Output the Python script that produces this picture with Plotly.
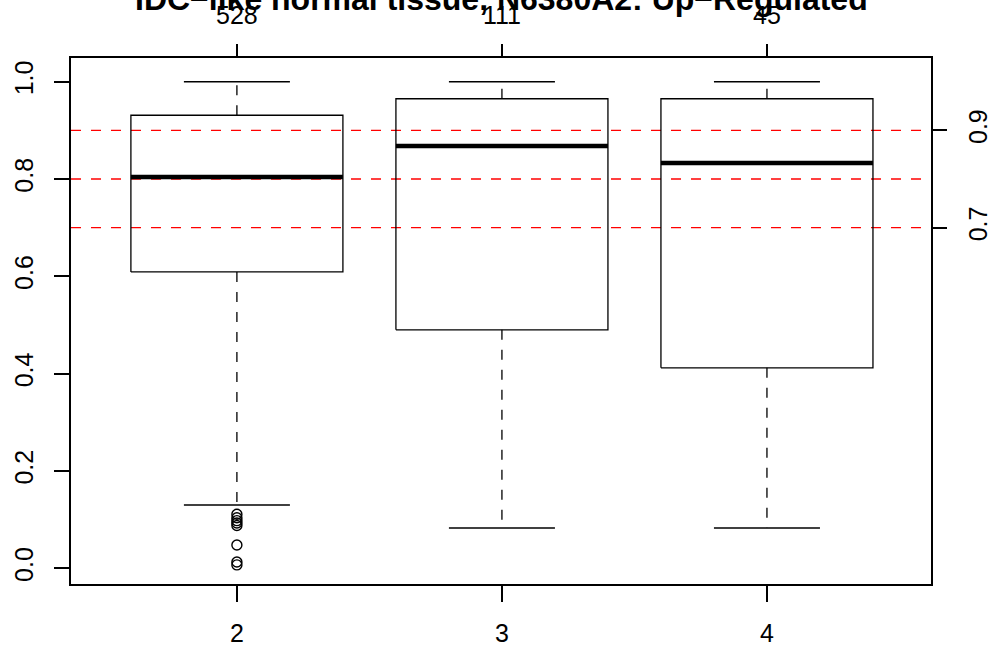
import plotly.graph_objects as go

# ---- data ----
groups = ["2", "3", "4"]
counts = ["528", "111", "45"]
q1 = [0.609, 0.490, 0.412]
med = [0.804, 0.868, 0.833]
q3 = [0.931, 0.965, 0.965]
whisk_lo = [0.130, 0.083, 0.083]
whisk_hi = [1.0, 1.0, 1.0]
outlier_group = [1, 1, 1, 1, 1, 1, 1, 1]
outlier_vals = [0.111, 0.104, 0.098, 0.093, 0.088, 0.048, 0.013, 0.007]
ref_lines = [0.9, 0.8, 0.7]
right_ticks = [0.7, 0.9]
left_ticks = [0.0, 0.2, 0.4, 0.6, 0.8, 1.0]

FONT = "Liberation Sans, Arial, sans-serif"
BW = 0.4   # half box width
CW = 0.2   # half cap width
XR = [0.374, 3.619]
YR = [-0.0323, 1.0487]

fig = go.Figure()

# reference lines
for v in ref_lines:
    fig.add_trace(go.Scatter(x=XR, y=[v, v], mode="lines",
                             line=dict(color="red", width=1.3, dash="10px,10px"),
                             hoverinfo="skip", showlegend=False))

for i in range(len(groups)):
    x = i + 1
    # whiskers (dashed)
    fig.add_trace(go.Scatter(x=[x, x], y=[q3[i], whisk_hi[i]], mode="lines",
                             line=dict(color="black", width=1.3, dash="10px,10px"),
                             hoverinfo="skip", showlegend=False))
    fig.add_trace(go.Scatter(x=[x, x], y=[q1[i], whisk_lo[i]], mode="lines",
                             line=dict(color="black", width=1.3, dash="10px,10px"),
                             hoverinfo="skip", showlegend=False))
    # caps
    for w in (whisk_hi[i], whisk_lo[i]):
        fig.add_trace(go.Scatter(x=[x - CW, x + CW], y=[w, w], mode="lines",
                                 line=dict(color="black", width=1.5),
                                 hoverinfo="skip", showlegend=False))
    # box
    fig.add_trace(go.Scatter(x=[x - BW, x + BW, x + BW, x - BW, x - BW],
                             y=[q1[i], q1[i], q3[i], q3[i], q1[i]], mode="lines",
                             line=dict(color="black", width=1.3),
                             hoverinfo="skip", showlegend=False))
    # median
    fig.add_trace(go.Scatter(x=[x - BW, x + BW], y=[med[i], med[i]], mode="lines",
                             line=dict(color="black", width=4.5),
                             hoverinfo="skip", showlegend=False))

# outliers
fig.add_trace(go.Scatter(x=outlier_group, y=outlier_vals, mode="markers",
                         marker=dict(symbol="circle-open", size=10, color="black",
                                     line=dict(width=1.4)),
                         hoverinfo="skip", showlegend=False))

# dummy trace for secondary axes
fig.add_trace(go.Scatter(x=[None], y=[None], xaxis="x2", yaxis="y2",
                         showlegend=False, hoverinfo="skip"))

tickfont = dict(family=FONT, size=25, color="black")

fig.update_layout(
    width=993, height=647,
    margin=dict(l=71, r=62, t=58, b=63, autoexpand=False),
    plot_bgcolor="white", paper_bgcolor="white",
    showlegend=False,
    xaxis=dict(range=XR, tickvals=[1, 2, 3], ticktext=groups, automargin=False,
               ticks="outside", ticklen=16, tickwidth=1.5, tickcolor="black",
               showline=True, mirror=True, linecolor="black", linewidth=1.5,
               showgrid=False, zeroline=False, tickfont=tickfont,
               ticklabelstandoff=10),
    yaxis=dict(range=YR, tickvals=left_ticks, automargin=False,
               ticktext=[f"{v:.1f}" for v in left_ticks],
               ticks="outside", ticklen=15, tickwidth=1.5, tickcolor="black",
               showline=True, mirror=True, linecolor="black", linewidth=1.5,
               showgrid=False, zeroline=False, tickfont=tickfont, tickangle=-90,
               ticklabelstandoff=11),
    xaxis2=dict(range=XR, overlaying="x", side="top", tickvals=[1, 2, 3],
                automargin=False,
                ticktext=counts, ticks="outside", ticklen=13, tickwidth=1.5,
                tickcolor="black", showline=False, showgrid=False,
                zeroline=False, tickfont=tickfont, ticklabelstandoff=10),
    yaxis2=dict(range=YR, overlaying="y", side="right", tickvals=right_ticks,
                automargin=False,
                ticktext=[f"{v:.1f}" for v in right_ticks],
                ticks="outside", ticklen=15, tickwidth=1.5, tickcolor="black",
                showline=False, showgrid=False, zeroline=False,
                tickfont=tickfont, tickangle=-90, ticklabelstandoff=10),
    annotations=[dict(text="<b>IDC−like normal tissue, N6380A2: Up−Regulated</b>",
                      xref="paper", yref="paper", x=0.5, y=1, yshift=38.5,
                      xanchor="center", yanchor="bottom", showarrow=False,
                      font=dict(family=FONT, size=32, color="black"))],
)

fig.write_html("out.html")
